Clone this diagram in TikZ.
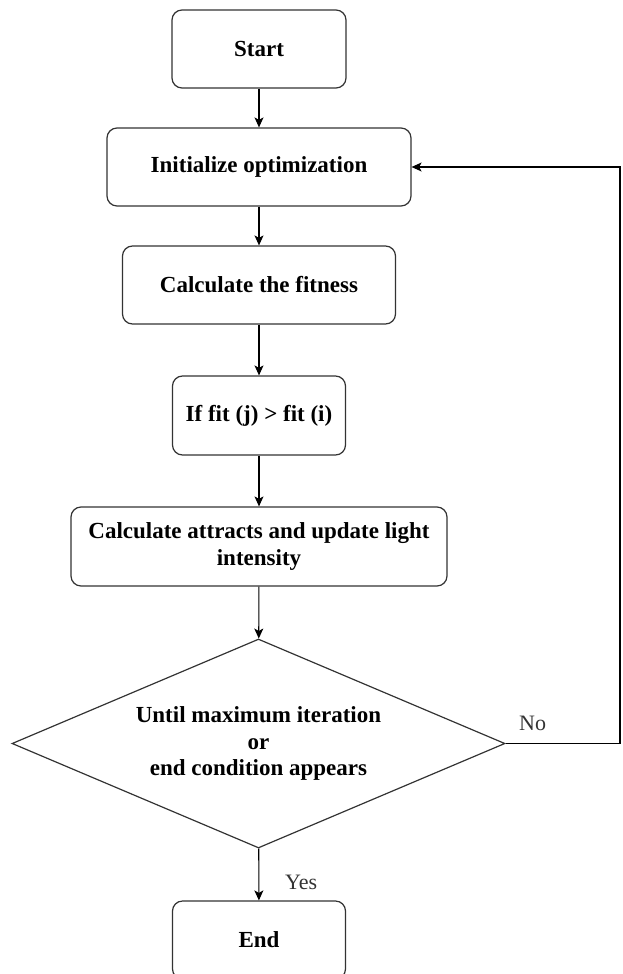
\documentclass[tikz,border=0pt]{standalone}
\usepackage{fontspec}
\setmainfont{Liberation Serif}
\usetikzlibrary{shapes.geometric,arrows.meta}
\begin{document}
\begin{tikzpicture}[x=1pt,y=-1pt,
  box/.style={draw=black!80,line width=1.2pt,rounded corners=10pt,rectangle,inner sep=0pt,
    align=center,font=\fontsize{23}{27.5}\selectfont\bfseries},
  dec/.style={draw=black!80,line width=1.2pt,diamond,inner sep=0pt,shape aspect=2.36,
    minimum width=493pt,minimum height=209pt,align=center,font=\fontsize{23}{26.5}\selectfont\bfseries},
  flow/.style={draw=black,line width=1.1pt,-{Stealth[length=10pt,width=9pt,inset=2.5pt]}},
  lbl/.style={text=black!80,font=\fontsize{22}{26}\selectfont,inner sep=0pt}]
\useasboundingbox (0,0) rectangle (622,974);
\node[box,minimum width=174pt,minimum height=78pt] (start) at (259,49) {Start};
\node[box,minimum width=304pt,minimum height=78pt] (init) at (259,167) {Initialize optimization};
\node[box,minimum width=273pt,minimum height=78pt] (fit) at (259,285) {Calculate the fitness};
\node[box,minimum width=173pt,minimum height=79pt] (iff) at (259,415.5) {If fit (j) > fit (i)};
\node[box,minimum width=376pt,minimum height=79pt] (attr) at (259,546.5) {Calculate attracts and update light\\intensity};
\node[dec] (until) at (258.5,743.5) {Until maximum iteration\\or\\end condition appears};
\node[box,minimum width=173pt,minimum height=78pt] (end) at (259,940) {End};
\coordinate (corner1) at (620,743.5);
\coordinate (corner2) at (620,167);
\draw[flow] (start) -- (init);
\draw[flow] (init) -- (fit);
\draw[flow] (fit) -- (iff);
\draw[flow] (iff) -- (attr);
\draw[flow] (attr) -- (until);
\draw[flow] (until) -- (end);
\draw[flow] (until.east) -- (corner1) -- (corner2) -- (init.east);
\node[lbl,anchor=west] (nolbl) at (519,723) {No};
\node[lbl,anchor=west] (yeslbl) at (285,882) {Yes};
\end{tikzpicture}
\end{document}
